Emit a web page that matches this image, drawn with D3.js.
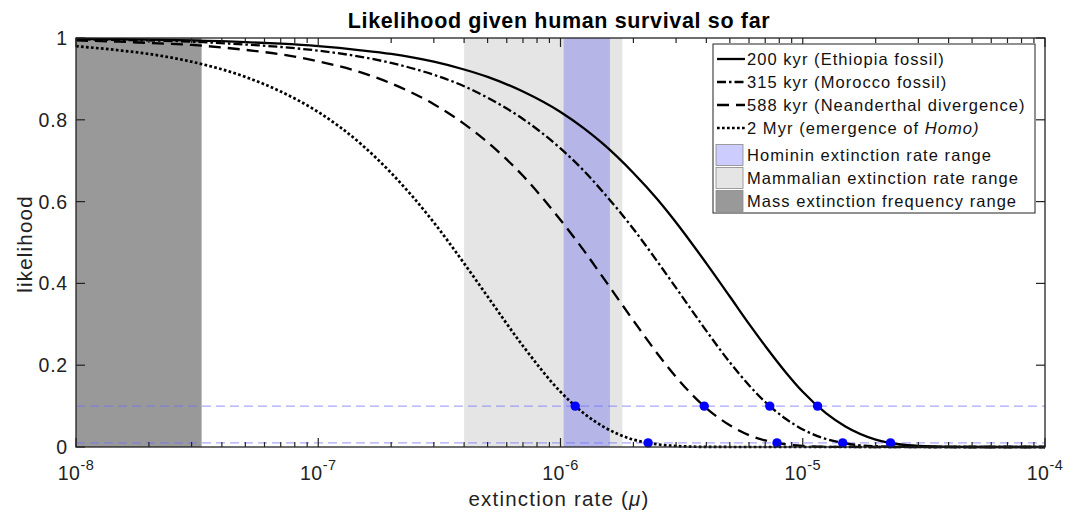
<!DOCTYPE html>
<html><head><meta charset="utf-8">
<script src="https://cdn.jsdelivr.net/npm/d3@7/dist/d3.min.js"></script>
<style>body{margin:0;background:#fff;}svg{display:block;font-family:"Liberation Sans",Arial,Helvetica,sans-serif;}</style>
</head><body>
<svg id="c" width="1077" height="515"></svg>
<script>
// ---- data ----
const mu = [1e-8,1.5e-8,2e-8,3e-8,5e-8,7e-8,1e-7,1.5e-7,2e-7,3e-7,4e-7,5e-7,7e-7,1e-6,1.25e-6,1.5e-6,2e-6,2.5e-6,3e-6,4e-6,5e-6,6e-6,7e-6,8.5e-6,1e-5,1.25e-5,1.5e-5,2e-5,2.5e-5,3e-5,4e-5,5e-5,7e-5,1e-4];
const like200k = [0.998,0.997,0.996,0.994,0.990,0.986,0.980,0.970,0.961,0.942,0.923,0.905,0.869,0.819,0.779,0.741,0.670,0.607,0.549,0.449,0.368,0.301,0.247,0.183,0.135,0.082,0.050,0.018,0.0067,0.0025,0.0003,0.00005,0,0];
const like315k = [0.997,0.995,0.994,0.991,0.984,0.978,0.969,0.954,0.939,0.910,0.882,0.854,0.802,0.730,0.675,0.623,0.533,0.455,0.389,0.284,0.207,0.151,0.110,0.069,0.043,0.0195,0.0089,0.0018,0.0004,0.0001,0,0,0,0];
const like588k = [0.994,0.991,0.988,0.983,0.971,0.960,0.943,0.916,0.889,0.838,0.790,0.745,0.663,0.555,0.480,0.414,0.309,0.230,0.171,0.095,0.053,0.029,0.016,0.0067,0.0028,0.0006,0.0001,0,0,0,0,0,0,0];
const like2M   = [0.980,0.970,0.961,0.942,0.905,0.869,0.819,0.741,0.670,0.549,0.449,0.368,0.247,0.135,0.082,0.050,0.018,0.0067,0.0025,0.0003,0.00005,0,0,0,0,0,0,0,0,0,0,0,0,0];
const seriesNames = ["200 kyr (Ethiopia fossil)","315 kyr (Morocco fossil)","588 kyr (Neanderthal divergence)","2 Myr (emergence of "];
const dots10 = [1.15e-6, 3.92e-6, 7.31e-6, 1.151e-5];
const dots01 = [2.30e-6, 7.83e-6, 1.462e-5, 2.303e-5];
const refLevels = [0.1, 0.01];
const massRange = [1e-8, 3.3e-8];
const mammalRange = [4e-7, 1.8e-6];
const homininRange = [1.03e-6, 1.6e-6];
const yTicks = [0,0.2,0.4,0.6,0.8,1];
const yTickLabels = ["0","0.2","0.4","0.6","0.8","1"];
const xDecades = [-8,-7,-6,-5,-4];

// ---- layout ----
const svg = d3.select("#c");
const L=76, R=1045, T=38, B=447;
const x = d3.scaleLog().domain([1e-8,1e-4]).range([L,R]);
const y = d3.scaleLinear().domain([0,1]).range([B,T]);

// bands
const bands = [
  {r:massRange, c:"#999999"},
  {r:mammalRange, c:"#e5e5e5"},
  {r:homininRange, c:"#b5b5e8"}
];
svg.selectAll("rect.band").data(bands).enter().append("rect")
  .attr("x",d=>x(d.r[0])).attr("width",d=>x(d.r[1])-x(d.r[0]))
  .attr("y",T).attr("height",B-T).attr("fill",d=>d.c);

// reference lines
svg.selectAll("line.ref").data(refLevels).enter().append("line")
  .attr("x1",L).attr("x2",R).attr("y1",d=>y(d)).attr("y2",d=>y(d))
  .attr("stroke","#6f6fff").attr("stroke-opacity",0.6).attr("stroke-width",1.1)
  .attr("stroke-dasharray","9,5");

// curves
const styles = [
  {dash:null, w:2.3},
  {dash:"9,3,2.5,3", w:2.3},
  {dash:"12,7", w:2.3},
  {dash:"2.7,2.3", w:2.7}
];
const allSeries = [like200k, like315k, like588k, like2M];
const line = d3.line().x((d,i)=>x(mu[i])).y(d=>y(d)).curve(d3.curveMonotoneX);
allSeries.forEach((s,k)=>{
  svg.append("path").attr("d",line(s)).attr("fill","none")
    .attr("stroke","#000").attr("stroke-width",styles[k].w)
    .attr("stroke-dasharray",styles[k].dash);
});

// dots
const dotData = dots10.map(m=>({m, v:0.1})).concat(dots01.map(m=>({m, v:0.01})));
svg.selectAll("circle.d").data(dotData).enter().append("circle")
  .attr("cx",d=>x(d.m)).attr("cy",d=>y(d.v)).attr("r",4.7).attr("fill","#0000ff");

// axes box
svg.append("rect").attr("x",L).attr("y",T).attr("width",R-L).attr("height",B-T)
  .attr("fill","none").attr("stroke","#222").attr("stroke-width",1.3);

// ticks
const g = svg.append("g").attr("stroke","#222").attr("stroke-width",1.2);
xDecades.forEach((e,i)=>{
  const v = Math.pow(10,e);
  [B,T].forEach((yy,j)=>{ g.append("line").attr("x1",x(v)).attr("x2",x(v)).attr("y1",yy).attr("y2", j? yy+9 : yy-9); });
  if(i<xDecades.length-1){
    for(let k=2;k<=9;k++){
      const vv = k*v;
      [B,T].forEach((yy,j)=>{ g.append("line").attr("x1",x(vv)).attr("x2",x(vv)).attr("y1",yy).attr("y2", j? yy+5 : yy-5); });
    }
  }
});
yTicks.forEach(t=>{
  g.append("line").attr("x1",L).attr("x2",L+9).attr("y1",y(t)).attr("y2",y(t));
  g.append("line").attr("x1",R).attr("x2",R-9).attr("y1",y(t)).attr("y2",y(t));
});

// tick labels
svg.selectAll("text.yt").data(yTicks).enter().append("text")
  .attr("x",L-8).attr("y",d=>y(d)+7).attr("text-anchor","end")
  .attr("font-size",19.5).attr("letter-spacing",0.8).attr("fill","#222").text((d,i)=>yTickLabels[i]);
xDecades.forEach(e=>{
  const t = svg.append("text").attr("x",x(Math.pow(10,e))).attr("y",480)
    .attr("text-anchor","middle").attr("font-size",19.5).attr("letter-spacing",0.5).attr("fill","#222");
  t.append("tspan").text("10");
  t.append("tspan").attr("dy",-10).attr("font-size",14.5).text(String(e));
});

// labels
svg.append("text").attr("x",559).attr("y",28).attr("text-anchor","middle")
  .attr("font-size",21.5).attr("letter-spacing",0.65).attr("font-weight","bold").attr("fill","#000")
  .text("Likelihood given human survival so far");
const xl = svg.append("text").attr("x",559).attr("y",506).attr("text-anchor","middle")
  .attr("font-size",20.5).attr("letter-spacing",1.2).attr("fill","#222");
xl.append("tspan").text("extinction rate (");
xl.append("tspan").attr("font-style","italic").text("\u03bc");
xl.append("tspan").text(")");
svg.append("text").attr("transform","translate(32,244) rotate(-90)").attr("text-anchor","middle")
  .attr("font-size",20.5).attr("letter-spacing",1.2).attr("fill","#222").text("likelihood");

// legend
const lg = svg.append("g");
lg.append("rect").attr("x",713).attr("y",44).attr("width",322).attr("height",169)
  .attr("fill","#fff").attr("stroke","#222").attr("stroke-width",1);
const lineRows = [59,82,105,128];
lineRows.forEach((yy,k)=>{
  lg.append("line").attr("x1",717).attr("x2",745).attr("y1",yy).attr("y2",yy)
    .attr("stroke","#000").attr("stroke-width",styles[k].w).attr("stroke-dasharray",styles[k].dash);
  const t = lg.append("text").attr("x",747).attr("y",yy+6).attr("font-size",16.5).attr("letter-spacing",1.05).attr("fill","#111");
  t.append("tspan").text(seriesNames[k]);
  if(k===3){ t.append("tspan").attr("font-style","italic").text("Homo)"); }
});
const patchRows = [
  {yy:155, c:"#ccccff", s:"Hominin extinction rate range"},
  {yy:178, c:"#e5e5e5", s:"Mammalian extinction rate range"},
  {yy:201, c:"#999999", s:"Mass extinction frequency range"}
];
patchRows.forEach(p=>{
  lg.append("rect").attr("x",716).attr("y",p.yy-10.5).attr("width",27).attr("height",21)
    .attr("fill",p.c).attr("stroke","#888").attr("stroke-width",0.8);
  lg.append("text").attr("x",747).attr("y",p.yy+6).attr("font-size",16.5).attr("letter-spacing",1.05).attr("fill","#111").text(p.s);
});
</script>
</body></html>
